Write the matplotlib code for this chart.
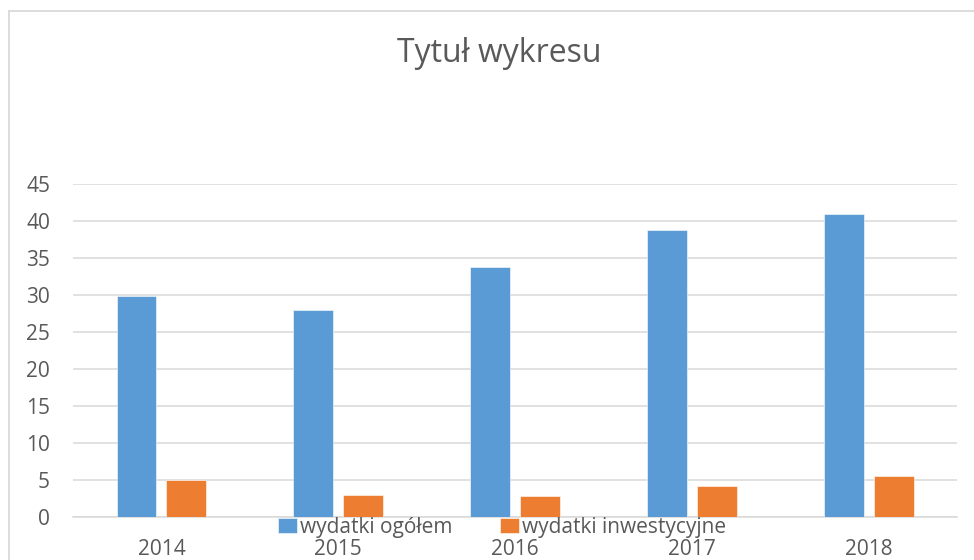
import matplotlib
matplotlib.use('Agg')
import matplotlib.pyplot as plt
from matplotlib.lines import Line2D
import numpy as np

years = ['2014', '2015', '2016', '2017', '2018']
wydatki_ogolem = [29.8, 27.9, 33.7, 38.8, 40.9]
wydatki_inwestycyjne = [5.0, 3.0, 2.9, 4.2, 5.6]
series_labels = ['wydatki ogółem', 'wydatki inwestycyjne']
y_ticks = [0, 5, 10, 15, 20, 25, 30, 35, 40, 45]

plt.rcParams['font.family'] = ['Open Sans', 'DejaVu Sans']
text_color = '#595959'
grid_color = '#D9D9D9'
blue = '#5B9BD5'
orange = '#ED7D31'

W, H = 974, 560
fig = plt.figure(figsize=(W / 100, H / 100), dpi=100)
ax = fig.add_axes([73 / W, 1 - 517 / H, (957.4 - 73) / W, (517 - 183.7) / H])

x = np.arange(len(years))
bw = 0.226
off = 0.141
ax.bar(x - off, wydatki_ogolem, bw, color=blue, edgecolor='white', linewidth=0.4,
       label=series_labels[0], zorder=3)
ax.bar(x + off, wydatki_inwestycyjne, bw, color=orange, edgecolor='white', linewidth=0.4,
       label=series_labels[1], zorder=3)

ax.set_xlim(-0.5, len(years) - 0.5)
ax.set_ylim(0, 45)
ax.set_yticks(y_ticks)
ax.set_xticks(x)
ax.set_xticklabels(years)
ax.yaxis.grid(True, color=grid_color, linewidth=1.1, zorder=0)
ax.set_axisbelow(True)
for s in ['top', 'right', 'left']:
    ax.spines[s].set_visible(False)
ax.spines['bottom'].set_color(grid_color)
ax.spines['bottom'].set_linewidth(1.1)
ax.tick_params(axis='both', length=0, labelsize=15, colors=text_color)
ax.tick_params(axis='y', pad=16.5)
ax.tick_params(axis='x', pad=16)

fig.text(499 / W, 1 - 53 / H, 'Tytuł wykresu', ha='center', va='center',
         fontsize=23, color=text_color)

fig.legend(loc='center', bbox_to_anchor=(502 / W, 1 - 527 / H), ncol=2,
           frameon=False, fontsize=15, labelcolor=text_color,
           handlelength=0.9, handleheight=0.75, handletextpad=0.15,
           columnspacing=2.3, borderpad=0)

# chart frame (only top and left edges visible)
fig.add_artist(Line2D([9 / W, 9 / W], [0, 1 - 11 / H], transform=fig.transFigure,
                      color=grid_color, linewidth=1.3))
fig.add_artist(Line2D([9 / W, 1], [1 - 11 / H, 1 - 11 / H], transform=fig.transFigure,
                      color=grid_color, linewidth=1.3))

fig.savefig('out.png', dpi=100)
